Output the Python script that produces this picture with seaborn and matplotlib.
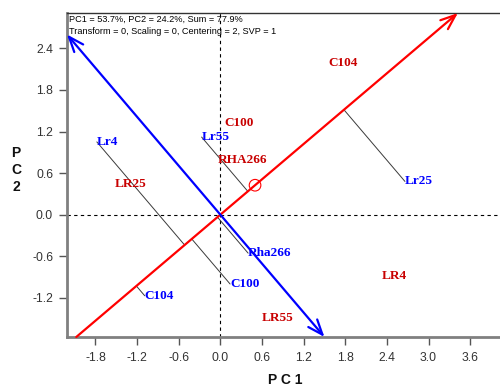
import numpy as np
import pandas as pd
import matplotlib
matplotlib.use("Agg")
import matplotlib.pyplot as plt
import seaborn as sns

# Genotype scores (blue labels)
genotypes = ["Lr4", "Lr55", "Lr25", "Rha266", "C100", "C104"]
geno_pc1 = [-1.78, -0.27, 2.66, 0.40, 0.14, -1.09]
geno_pc2 = [1.05, 1.12, 0.48, -0.555, -1.00, -1.17]

# Environment scores (red labels)
environments = ["C104", "C100", "RHA266", "LR25", "LR4", "LR55"]
env_pc1 = [1.55, 0.065, -0.036, -1.52, 2.33, 0.60]
env_pc2 = [2.19, 1.33, 0.785, 0.44, -0.885, -1.49]

# Average environment coordinate
avg_pc1 = [0.50]
avg_pc2 = [0.425]

x_ticks = [-1.8, -1.2, -0.6, 0.0, 0.6, 1.2, 1.8, 2.4, 3.0, 3.6]
y_ticks = [-1.2, -0.6, 0.0, 0.6, 1.2, 1.8, 2.4]
header_lines = ["PC1 = 53.7%, PC2 = 24.2%, Sum = 77.9%",
                "Transform = 0, Scaling = 0, Centering = 2, SVP = 1"]

XLIM = (-2.21, 4.03)
YLIM = (-1.765, 2.91)

sns.set_theme(style="white")
plt.rcParams["font.family"] = ["Liberation Sans", "DejaVu Sans"]

geno = pd.DataFrame({"name": genotypes, "PC1": geno_pc1, "PC2": geno_pc2})
env = pd.DataFrame({"name": environments, "PC1": env_pc1, "PC2": env_pc2})
avg = pd.DataFrame({"PC1": avg_pc1, "PC2": avg_pc2})

fig = plt.figure(figsize=(5.0, 3.87), dpi=100)
ax = fig.add_axes([67 / 500, 50 / 387, 433 / 500, 324 / 387])
ax.set_xlim(*XLIM)
ax.set_ylim(*YLIM)


def ray_end(d):
    """Point where a ray from the origin along d leaves the plotting box."""
    ts = []
    for comp, (lo, hi) in zip(d, (XLIM, YLIM)):
        if comp > 0:
            ts.append(hi / comp)
        elif comp < 0:
            ts.append(lo / comp)
    t = min(ts)
    return np.array(d) * t


# Zero reference lines
ax.axhline(0, color="black", lw=0.8, ls=(0, (3, 3)), zorder=1)
ax.axvline(0, color="black", lw=0.8, ls=(0, (3, 3)), zorder=1)

# Average-environment axis (abscissa) and its perpendicular
aec = np.array([avg_pc1[0], avg_pc2[0]])
u = aec / np.linalg.norm(aec)
perp = np.array([-u[1], u[0]])

red_tip = ray_end(u)
red_tail = ray_end(-u)
blue_a = ray_end(perp)
blue_b = ray_end(-perp)

ax.annotate("", xy=red_tip, xytext=red_tail,
            arrowprops=dict(arrowstyle="->,head_length=0.9,head_width=0.35",
                            color="#ff0000", lw=1.6, shrinkA=0, shrinkB=0),
            zorder=3)
ax.annotate("", xy=blue_b, xytext=blue_a,
            arrowprops=dict(arrowstyle="<->,head_length=0.9,head_width=0.35",
                            color="#0000ff", lw=1.6, shrinkA=0, shrinkB=0),
            zorder=3)

# Projection of each genotype onto the average-environment axis
for _, r in geno.iterrows():
    p = np.array([r.PC1, r.PC2])
    proj = np.dot(p, u) * u
    seg = pd.DataFrame({"PC1": [p[0], proj[0]], "PC2": [p[1], proj[1]]})
    sns.lineplot(data=seg, x="PC1", y="PC2", ax=ax, color="#3a3a3a",
                 lw=0.7, sort=False, estimator=None, zorder=2)

# Average environment marker
sns.scatterplot(data=avg, x="PC1", y="PC2", ax=ax, s=70, marker="o",
                facecolor="none", edgecolor="#ff0000", linewidth=0.8, zorder=4)

serif = ["Liberation Serif", "DejaVu Serif"]
for _, r in geno.iterrows():
    ax.text(r.PC1, r.PC2, r["name"], color="#0000ff", fontsize=9.5,
            fontweight="bold", family=serif, ha="left", va="center", zorder=5)
for _, r in env.iterrows():
    ax.text(r.PC1, r.PC2, r["name"], color="#c80000", fontsize=9.5,
            fontweight="bold", family=serif, ha="left", va="center", zorder=5)

# Axes styling
ax.set_xticks(x_ticks)
ax.set_yticks(y_ticks)
ax.set_xticklabels([f"{v:.1f}" for v in x_ticks])
ax.set_yticklabels([f"{v:.1f}" for v in y_ticks])
ax.tick_params(axis="both", direction="out", length=6, width=1,
               color="#555555", labelsize=8.7, labelcolor="#333333",
               bottom=True, left=True)
ax.tick_params(axis="x", pad=5)
ax.tick_params(axis="y", pad=4)
for side in ("left", "bottom"):
    ax.spines[side].set_color("#808080")
    ax.spines[side].set_linewidth(2.0)
ax.spines["top"].set_color("#333333")
ax.spines["top"].set_linewidth(1.0)
ax.spines["right"].set_visible(False)
ax.set_xlabel("")
ax.set_ylabel("")

# Header with variance explained and settings
fig.text(69 / 500, 1 - 19 / 387, header_lines[0], fontsize=6.6,
         color="black", ha="left", va="center")
fig.text(69 / 500, 1 - 31 / 387, header_lines[1], fontsize=6.6,
         color="black", ha="left", va="center")

fig.text(285 / 500, 1 - 380 / 387, "P C 1", fontsize=10, fontweight="bold",
         ha="center", va="center", color="#111111")
fig.text(16 / 500, 1 - 170 / 387, "P\nC\n2", fontsize=10, fontweight="bold",
         ha="center", va="center", linespacing=1.25, color="#111111")

fig.savefig("out.png", dpi=100)
